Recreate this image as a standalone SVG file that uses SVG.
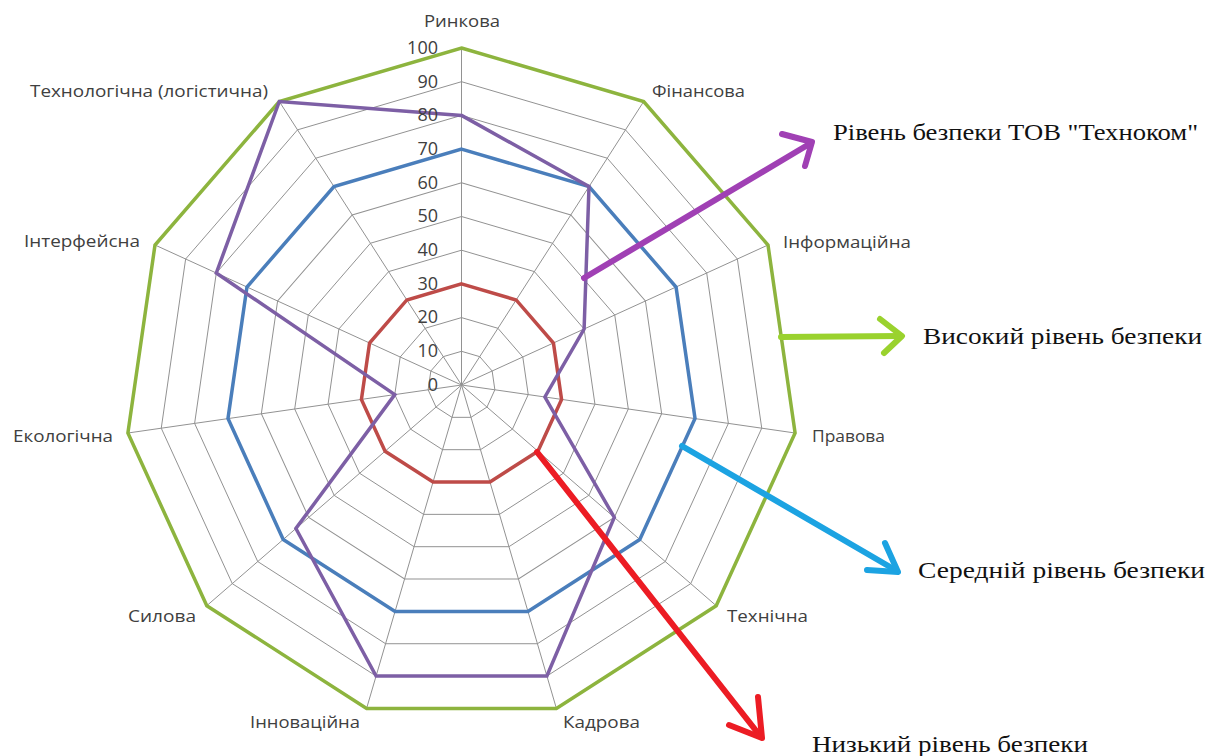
<svg xmlns="http://www.w3.org/2000/svg" xmlns:xlink="http://www.w3.org/1999/xlink" width="1221" height="756" viewBox="0 0 1221 756">
  <style>
    .grid { fill: none; stroke: #929292; }
    .series { fill: none; stroke-linejoin: miter; }
    .axis { font-family: "Open Sans", "Noto Sans", sans-serif; font-size: 17px; fill: #404040; }
    .val { font-family: "Open Sans", "Noto Sans", sans-serif; font-size: 18px; fill: #404040; text-anchor: end; }
    .note { font-family: "Liberation Serif", "DejaVu Serif", serif; font-size: 24px; fill: #111; }
    .arrow { fill: none; stroke-width: 6; stroke-linecap: round; stroke-linejoin: round; }
  </style>
  <defs>
    <polygon id="ring" points="0,-337 182.2,-283.5 306.5,-140 333.6,48 254.7,220.7 94.9,323.4 -94.9,323.4 -254.7,220.7 -333.6,48 -306.5,-140 -182.2,-283.5"/>
  </defs>
  <rect width="1221" height="756" fill="#ffffff"/>

  <g id="grid" transform="translate(461.5,385)">
    <use xlink:href="#ring" class="grid" transform="scale(0.1)" stroke-width="10"/>
    <use xlink:href="#ring" class="grid" transform="scale(0.2)" stroke-width="5"/>
    <use xlink:href="#ring" class="grid" transform="scale(0.3)" stroke-width="3.333"/>
    <use xlink:href="#ring" class="grid" transform="scale(0.4)" stroke-width="2.5"/>
    <use xlink:href="#ring" class="grid" transform="scale(0.5)" stroke-width="2"/>
    <use xlink:href="#ring" class="grid" transform="scale(0.6)" stroke-width="1.667"/>
    <use xlink:href="#ring" class="grid" transform="scale(0.7)" stroke-width="1.429"/>
    <use xlink:href="#ring" class="grid" transform="scale(0.8)" stroke-width="1.25"/>
    <use xlink:href="#ring" class="grid" transform="scale(0.9)" stroke-width="1.111"/>
    <g stroke="#929292" stroke-width="1">
      <line x1="0" y1="0" x2="0" y2="-337"/>
      <line x1="0" y1="0" x2="182.2" y2="-283.5"/>
      <line x1="0" y1="0" x2="306.5" y2="-140"/>
      <line x1="0" y1="0" x2="333.6" y2="48"/>
      <line x1="0" y1="0" x2="254.7" y2="220.7"/>
      <line x1="0" y1="0" x2="94.9" y2="323.4"/>
      <line x1="0" y1="0" x2="-94.9" y2="323.4"/>
      <line x1="0" y1="0" x2="-254.7" y2="220.7"/>
      <line x1="0" y1="0" x2="-333.6" y2="48"/>
      <line x1="0" y1="0" x2="-306.5" y2="-140"/>
      <line x1="0" y1="0" x2="-182.2" y2="-283.5"/>
    </g>
  </g>

  <g id="series">
    <use id="series-high" xlink:href="#ring" class="series" stroke="#8db43e" stroke-width="3.5" transform="translate(461.5,385)"/>
    <use id="series-mid" xlink:href="#ring" class="series" stroke="#4a7ebb" stroke-width="5" transform="translate(461.5,385) scale(0.7)"/>
    <use id="series-low" xlink:href="#ring" class="series" stroke="#be4b48" stroke-width="11.667" transform="translate(461.5,385) scale(0.3)"/>
    <polygon id="series-company" class="series" stroke="#7d5fa5" stroke-width="3.5" points="461.5,115.4 589,186.5 584.1,329 544.9,397 614.3,517.4 546.9,676 376.1,676 295.9,528.5 394.8,394.6 216.3,273 279.3,101.5"/>
  </g>

  <g id="scale-labels">
    <text class="val" x="438" y="391">0</text>
    <text class="val" x="438" y="357">10</text>
    <text class="val" x="438" y="323">20</text>
    <text class="val" x="438" y="290">30</text>
    <text class="val" x="438" y="256">40</text>
    <text class="val" x="438" y="222">50</text>
    <text class="val" x="438" y="189">60</text>
    <text class="val" x="438" y="155">70</text>
    <text class="val" x="438" y="121">80</text>
    <text class="val" x="438" y="88">90</text>
    <text class="val" x="438" y="54">100</text>
  </g>

  <g id="axis-labels">
    <text id="ax-rynkova" class="axis" x="424" y="27" textLength="76" lengthAdjust="spacingAndGlyphs">Ринкова</text>
    <text id="ax-finansova" class="axis" x="652" y="97" textLength="93" lengthAdjust="spacingAndGlyphs">Фінансова</text>
    <text id="ax-informatsiina" class="axis" x="783" y="248" textLength="128" lengthAdjust="spacingAndGlyphs">Інформаційна</text>
    <text id="ax-pravova" class="axis" x="812" y="442" textLength="73" lengthAdjust="spacingAndGlyphs">Правова</text>
    <text id="ax-tekhnichna" class="axis" x="727" y="622" textLength="81" lengthAdjust="spacingAndGlyphs">Технічна</text>
    <text id="ax-kadrova" class="axis" x="563" y="728" textLength="77" lengthAdjust="spacingAndGlyphs">Кадрова</text>
    <text id="ax-innovatsiina" class="axis" x="250" y="728" textLength="110" lengthAdjust="spacingAndGlyphs">Інноваційна</text>
    <text id="ax-sylova" class="axis" x="128" y="622" textLength="68" lengthAdjust="spacingAndGlyphs">Силова</text>
    <text id="ax-ekolohichna" class="axis" x="13" y="442" textLength="100" lengthAdjust="spacingAndGlyphs">Екологічна</text>
    <text id="ax-interfeisna" class="axis" x="24" y="247" textLength="116" lengthAdjust="spacingAndGlyphs">Інтерфейсна</text>
    <text id="ax-tekhnolohichna" class="axis" x="30" y="97" textLength="238" lengthAdjust="spacingAndGlyphs">Технологічна (логістична)</text>
  </g>

  <g id="connectors">
    <g id="arrow-company" class="arrow" stroke="#a040b4">
      <line x1="584" y1="278" x2="811" y2="143"/>
      <polyline points="782,134 812,142 805,166"/>
    </g>
    <g id="arrow-high" class="arrow" stroke="#9ad22e">
      <line x1="781" y1="337" x2="901" y2="336"/>
      <polyline points="880,319 902,336 884,353"/>
    </g>
    <g id="arrow-mid" class="arrow" stroke="#1ca3e2">
      <line x1="682" y1="446" x2="897" y2="571"/>
      <polyline points="885,543 898,572 867,570"/>
    </g>
    <g id="arrow-low" class="arrow" stroke="#ec1c24">
      <line x1="537" y1="452" x2="761" y2="737"/>
      <polyline points="758,697 762,738 729,725"/>
    </g>
  </g>

  <g id="notes">
    <text id="note-company" class="note" x="833" y="140" textLength="365" lengthAdjust="spacingAndGlyphs">Рівень безпеки ТОВ "Техноком"</text>
    <text id="note-high" class="note" x="923" y="344" textLength="279" lengthAdjust="spacingAndGlyphs">Високий рівень безпеки</text>
    <text id="note-mid" class="note" x="918" y="578" textLength="287" lengthAdjust="spacingAndGlyphs">Середній рівень безпеки</text>
    <text id="note-low" class="note" x="812" y="752" textLength="276" lengthAdjust="spacingAndGlyphs">Низький рівень безпеки</text>
  </g>
</svg>
